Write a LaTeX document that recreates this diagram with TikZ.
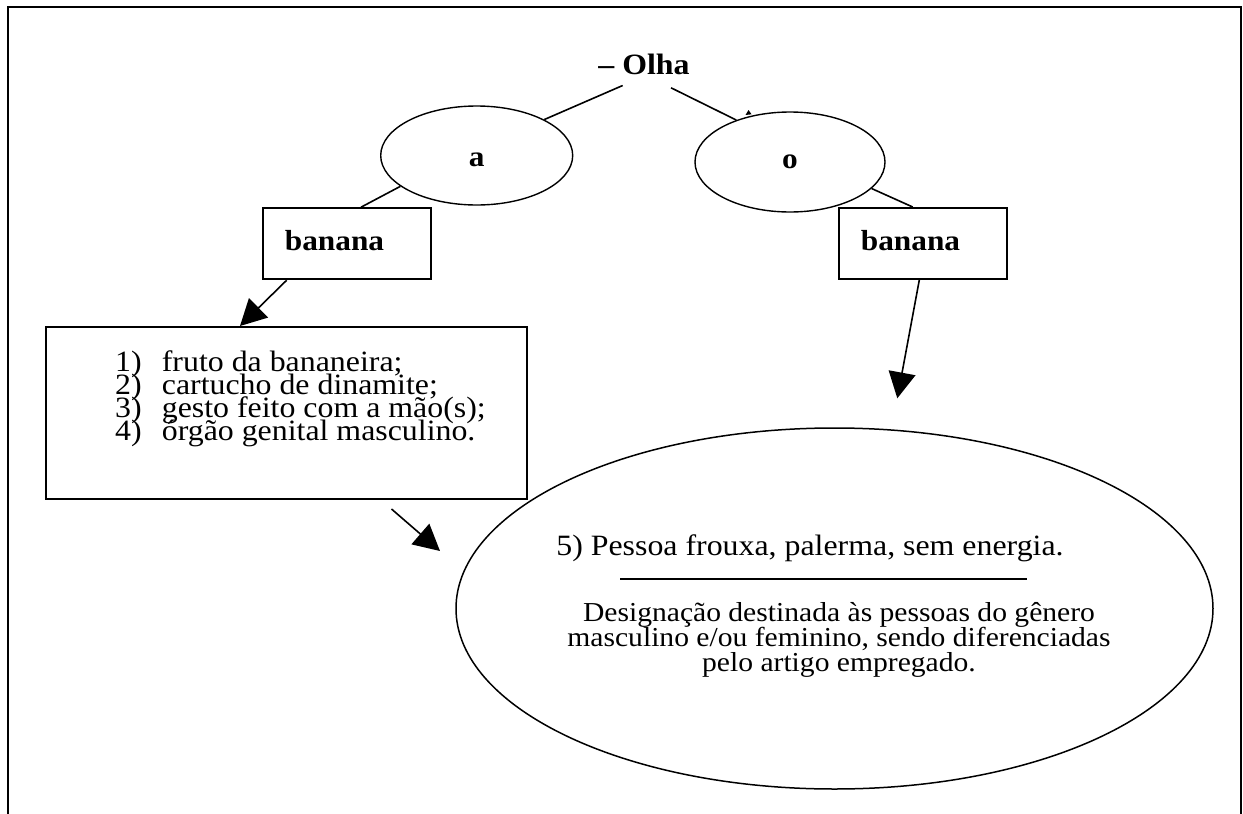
\documentclass[tikz,border=0pt]{standalone}
\usepackage{fontspec}
\setmainfont{Liberation Serif}[FakeStretch=1.08]
\usetikzlibrary{shapes.geometric,arrows.meta,calc}
\begin{document}
\begin{tikzpicture}[x=1pt,y=-1pt,
  boxst/.style={draw,line width=2pt,rectangle,minimum width=168pt,minimum height=71pt,inner sep=0pt},
  ell/.style={draw,ellipse,line width=1.4pt,inner sep=0pt,font=\bfseries\fontsize{29}{30}\selectfont},
  lbl/.style={inner sep=0pt,anchor=base},
  boldlbl/.style={lbl,font=\bfseries\fontsize{29}{30}\selectfont},
  conn/.style={line width=1.6pt},
  arr/.style={line width=1.6pt,-{Triangle[length=26pt,width=27pt]}}]
\useasboundingbox (0,0) rectangle (1243,814);
% frame
\draw[line width=2pt] (8.3,814) -- (8.3,6.7) -- (1241,6.7) -- (1241,814);
% top word
\node[boldlbl,font=\bfseries\fontsize{29.5}{30}\selectfont] (olha) at (644,74.7) {-- Olha};
% article ellipses
\node[ell,minimum width=192pt,minimum height=99pt] (ea) at (476.7,155.5) {\raisebox{-4pt}[\height][\depth]{a}};
\node[ell,minimum width=190pt,minimum height=100pt] (eo) at (790,162) {o};
\draw[conn] ($(olha.south)+(-21.3,10.3)$) -- (ea.28);
\draw[conn] ($(olha.south)+(27,12.6)$) -- (eo.142);
\fill (745.5,115) -- (748.5,110) -- (751.5,114.3) -- cycle;
% banana boxes
\node[boxst] (bl) at (346.8,243.7) {};
\node[boldlbl] (blt) at (334.5,250) {banana};
\node[boxst] (br) at (923,243.5) {};
\node[boldlbl] (brt) at (910.5,250) {banana};
\draw[conn] (ea.202) -- ($(bl.north)+(14.2,0)$);
\draw[conn] (eo.342) -- ($(br.north)+(-10.3,0)$);
% list box
\node[draw,line width=2pt,minimum width=481pt,minimum height=172pt,inner sep=0pt] (list) at (286.5,413) {};
\node[inner sep=0pt,anchor=base west] (listtext) at (115,371) {\vtop{\hsize=420pt\parindent=0pt\fontsize{29.5}{23}\selectfont\lineskiplimit=-100pt
\makebox[46.7pt][l]{1)}fruto da bananeira;\par
\makebox[46.7pt][l]{2)}cartucho de dinamite;\par
\makebox[46.7pt][l]{3)}gesto feito com a mão(s);\par
\makebox[46.7pt][l]{4)}órgão genital masculino.\par}};
% big ellipse
\node[draw,ellipse,line width=1.5pt,inner sep=0pt,minimum width=757pt,minimum height=361pt] (big) at (834.5,608.5) {};
\node[lbl,font=\fontsize{29.5}{30}\selectfont] (def5) at (810,555) {5) Pessoa frouxa, palerma, sem energia.};
\draw[line width=2pt] (620,579) -- (1027,579);
\node[lbl] (desig) at (839,621) {\vtop{\hsize=600pt\centering\fontsize{27.4}{25}\selectfont\lineskiplimit=-100pt
Designação destinada às pessoas do gênero\par
masculino e/ou feminino, sendo diferenciadas\par
pelo artigo empregado.\par}};
% arrows
\draw[arr] ($(bl.south)+(-60.1,0)$) -- ($(list.north)+(-46.5,0)$);
\coordinate (tipR) at (897.3,398.3);
\draw[arr] ($(br.south)+(-3.7,0)$) -- (tipR);
\coordinate (s3) at ($(list.south)+(105,9)$);
\coordinate (t3) at (440,551);
\draw[arr] (s3) -- (t3);
\end{tikzpicture}
\end{document}
